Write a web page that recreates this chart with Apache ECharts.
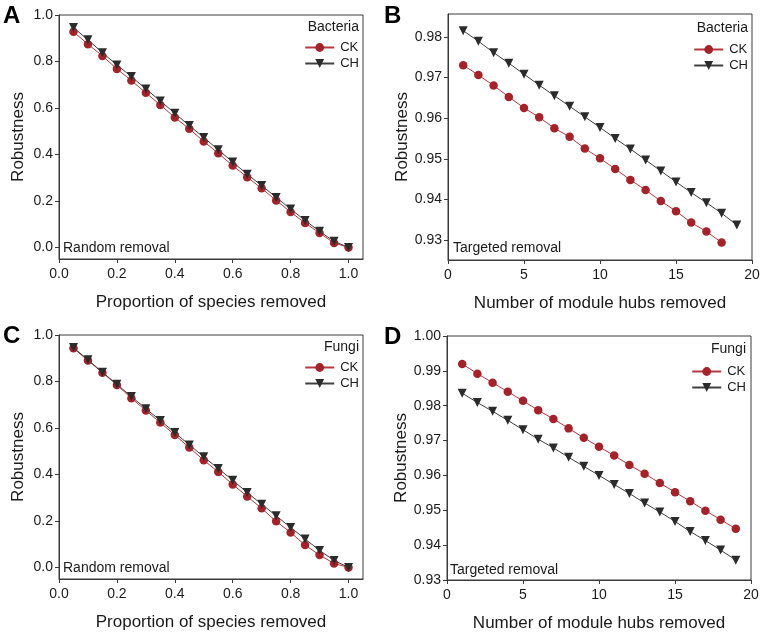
<!DOCTYPE html>
<html>
<head>
<meta charset="utf-8">
<title>Robustness</title>
<script src="https://cdn.jsdelivr.net/npm/echarts@6/dist/echarts.min.js"></script>
<style>
    html, body { margin: 0; padding: 0; background: #fff; }
    #main { width: 767px; height: 641px; }
</style>
</head>
<body>
<div id="main"></div>
<script>
/************************************************************************************/
// data
/************************************************************************************/
var propX = [0.05, 0.10, 0.15, 0.20, 0.25, 0.30, 0.35, 0.40, 0.45, 0.50,
             0.55, 0.60, 0.65, 0.70, 0.75, 0.80, 0.85, 0.90, 0.95, 1.00];
var hubX = [1, 2, 3, 4, 5, 6, 7, 8, 9, 10, 11, 12, 13, 14, 15, 16, 17, 18, 19];

// A: bacteria, random removal
var aCK = [0.928, 0.874, 0.824, 0.768, 0.718, 0.665, 0.613, 0.559, 0.510, 0.456,
           0.405, 0.352, 0.302, 0.254, 0.202, 0.152, 0.105, 0.062, 0.019, 0.000];
var aCH = [0.946, 0.893, 0.838, 0.785, 0.735, 0.682, 0.630, 0.577, 0.524, 0.473,
           0.420, 0.367, 0.315, 0.266, 0.215, 0.165, 0.116, 0.069, 0.026, 0.000];

// B: bacteria, targeted removal (CK has 18 points)
var bCK = [0.9730, 0.9706, 0.9680, 0.9652, 0.9625, 0.9602, 0.9575, 0.9554, 0.9525,
           0.9501, 0.9475, 0.9448, 0.9423, 0.9396, 0.9371, 0.9343, 0.9321, 0.9294];
var bErr = [0.0002, 0.0003, 0.0004, 0.0004, 0.0004, 0.0006, 0.0006, 0.0007, 0.0006,
            0.0006, 0.0006, 0.0006, 0.0005, 0.0004, 0.0004, 0.0003, 0.0003, 0.0002];
var bCH = [0.9815, 0.9789, 0.9761, 0.9735, 0.9708, 0.9681, 0.9655, 0.9629, 0.9603, 0.9577,
           0.9550, 0.9524, 0.9497, 0.9470, 0.9443, 0.9417, 0.9392, 0.9366, 0.9337];

// C: fungi, random removal
var cCK = [0.943, 0.890, 0.838, 0.785, 0.728, 0.675, 0.623, 0.570, 0.516, 0.461,
           0.411, 0.357, 0.305, 0.254, 0.198, 0.150, 0.096, 0.053, 0.017, 0.000];
var cCH = [0.946, 0.893, 0.840, 0.788, 0.735, 0.683, 0.632, 0.580, 0.527, 0.476,
           0.425, 0.375, 0.322, 0.272, 0.222, 0.172, 0.122, 0.073, 0.030, 0.000];

// D: fungi, targeted removal
var dCK = [0.9920, 0.9892, 0.9866, 0.9840, 0.9814, 0.9787, 0.9762, 0.9735, 0.9708, 0.9682,
           0.9657, 0.9630, 0.9605, 0.9578, 0.9552, 0.9526, 0.9499, 0.9473, 0.9447];
var dCH = [0.9836, 0.9809, 0.9784, 0.9758, 0.9731, 0.9704, 0.9679, 0.9652, 0.9626, 0.9600,
           0.9574, 0.9548, 0.9521, 0.9495, 0.9468, 0.9439, 0.9413, 0.9386, 0.9357];

// tick labels
var propTicks = [0, 0.2, 0.4, 0.6, 0.8, 1.0];
var hubTicks = [0, 5, 10, 15, 20];
var bTicks = [0.93, 0.94, 0.95, 0.96, 0.97, 0.98];
var dTicks = [0.93, 0.94, 0.95, 0.96, 0.97, 0.98, 0.99, 1.00];

/************************************************************************************/
// styles
/************************************************************************************/
var FONT = "'Liberation Sans', Arial, sans-serif";
var TXT = '#1a1a1a';
var AXIS = '#3a3a3a';
var RED = '#a3232a';
var RED_LINE = '#b5383c';
var DARK = '#2b2b2b';

var zip = function (xs, ys) {
    var out = [];
    for (var i = 0; i < ys.length; i++) {
        out.push([xs[i], ys[i]]);
    }
    return out;
};

var makeX = function (idx, min, max, ticks, digits, name) {
    return {
        gridIndex: idx, type: 'value', min: min, max: max,
        name: name, nameLocation: 'middle', nameGap: 35,
        nameTextStyle: { fontSize: 17, color: TXT, fontFamily: FONT },
        axisLine: { show: true, onZero: false, lineStyle: { color: AXIS, width: 1 } },
        axisTick: { show: true, length: 4, customValues: ticks, lineStyle: { color: AXIS } },
        axisLabel: {
            customValues: ticks, margin: 8, fontSize: 14, color: TXT, fontFamily: FONT,
            formatter: function (v) { return digits ? v.toFixed(digits) : String(v); }
        },
        splitLine: { show: false }
    };
};

var makeY = function (idx, min, max, ticks, digits) {
    return {
        gridIndex: idx, type: 'value', min: min, max: max,
        name: 'Robustness', nameLocation: 'middle', nameGap: 32,
        nameTextStyle: { fontSize: 17, color: TXT, fontFamily: FONT },
        axisLine: { show: true, onZero: false, lineStyle: { color: AXIS, width: 1 } },
        axisTick: { show: true, length: 4, customValues: ticks, lineStyle: { color: AXIS } },
        axisLabel: {
            customValues: ticks, margin: 6, fontSize: 14, color: TXT, fontFamily: FONT,
            formatter: function (v) { return v.toFixed(digits); }
        },
        splitLine: { show: false }
    };
};

var ckSeries = function (idx, data) {
    return {
        name: 'CK', type: 'line', xAxisIndex: idx, yAxisIndex: idx, data: data,
        symbol: 'circle', symbolSize: 8.5, z: 3,
        itemStyle: { color: RED },
        lineStyle: { color: RED_LINE, width: 1 },
        animation: false
    };
};

var chSeries = function (idx, data) {
    return {
        name: 'CH', type: 'line', xAxisIndex: idx, yAxisIndex: idx, data: data,
        symbol: 'triangle', symbolRotate: 180, symbolSize: 9, z: 4,
        itemStyle: { color: DARK },
        lineStyle: { color: '#404040', width: 1 },
        animation: false
    };
};

var makeLegend = function (right, top) {
    return {
        data: ['CK', 'CH'], orient: 'vertical', right: right, top: top,
        padding: 0, itemWidth: 29, itemHeight: 11, itemGap: 3,
        selectedMode: false,
        textStyle: { fontSize: 13, color: TXT, fontFamily: FONT, padding: [0, 0, 0, 1] }
    };
};

var note = function (x, y, str, align) {
    return {
        type: 'text', x: x, y: y,
        style: {
            text: str, fill: TXT, fontSize: 14, fontFamily: FONT,
            align: align || 'left', verticalAlign: 'middle'
        }
    };
};

var letter = function (x, y, str) {
    return {
        type: 'text', x: x, y: y,
        style: { text: str, fill: '#000', fontSize: 24, fontWeight: 'bold', fontFamily: FONT }
    };
};

// error bars for B / CK
var errData = [];
for (var i = 0; i < bCK.length; i++) {
    errData.push([hubX[i], bCK[i], bErr[i]]);
}

/************************************************************************************/
// chart
/************************************************************************************/
var myChart = echarts.init(document.getElementById('main'), null, { renderer: 'canvas' });

var option = {
    backgroundColor: '#fff',
    animation: false,
    grid: [
        { left: 59, top: 15, width: 304, height: 244, show: true, borderColor: AXIS, borderWidth: 1 },
        { left: 448, top: 14, width: 304, height: 246, show: true, borderColor: AXIS, borderWidth: 1 },
        { left: 59, top: 335, width: 304, height: 244, show: true, borderColor: AXIS, borderWidth: 1 },
        { left: 447, top: 336, width: 304, height: 244, show: true, borderColor: AXIS, borderWidth: 1 }
    ],
    xAxis: [
        makeX(0, 0, 1.05, propTicks, 1, 'Proportion of species removed'),
        makeX(1, 0, 20, hubTicks, 0, 'Number of module hubs removed'),
        makeX(2, 0, 1.05, propTicks, 1, 'Proportion of species removed'),
        makeX(3, 0, 20, hubTicks, 0, 'Number of module hubs removed')
    ],
    yAxis: [
        makeY(0, -0.05, 1.0, propTicks, 1),
        makeY(1, 0.9251, 0.9856, bTicks, 2),
        makeY(2, -0.05, 1.0, propTicks, 1),
        makeY(3, 0.93, 1.00, dTicks, 2)
    ],
    legend: [
        makeLegend(767 - 359, 41),
        makeLegend(767 - 748, 43),
        makeLegend(767 - 359, 361),
        makeLegend(767 - 746, 365)
    ],
    graphic: [
        letter(3, 4, 'A'), letter(384, 4, 'B'), letter(3, 324, 'C'), letter(384, 325, 'D'),
        note(359, 27, 'Bacteria', 'right'),
        note(748, 28, 'Bacteria', 'right'),
        note(359, 347, 'Fungi', 'right'),
        note(746, 349, 'Fungi', 'right'),
        note(63, 248, 'Random removal'),
        note(453, 248, 'Targeted removal'),
        note(63, 568, 'Random removal'),
        note(450, 570, 'Targeted removal')
    ],
    series: [
        ckSeries(0, zip(propX, aCK)),
        chSeries(0, zip(propX, aCH)),
        {
            type: 'custom', xAxisIndex: 1, yAxisIndex: 1, data: errData, z: 2,
            renderItem: function (params, api) {
                var x = api.value(0), y = api.value(1), e = api.value(2);
                var hi = api.coord([x, y + e]);
                var lo = api.coord([x, y - e]);
                var st = { stroke: '#e3a4a6', lineWidth: 1 };
                return {
                    type: 'group',
                    children: [
                        { type: 'line', shape: { x1: hi[0], y1: hi[1], x2: lo[0], y2: lo[1] }, style: st },
                        { type: 'line', shape: { x1: hi[0] - 3, y1: hi[1], x2: hi[0] + 3, y2: hi[1] }, style: st },
                        { type: 'line', shape: { x1: lo[0] - 3, y1: lo[1], x2: lo[0] + 3, y2: lo[1] }, style: st }
                    ]
                };
            }
        },
        ckSeries(1, zip(hubX, bCK)),
        chSeries(1, zip(hubX, bCH)),
        ckSeries(2, zip(propX, cCK)),
        chSeries(2, zip(propX, cCH)),
        ckSeries(3, zip(hubX, dCK)),
        chSeries(3, zip(hubX, dCH))
    ]
};
myChart.setOption(option);
</script>
</body>
</html>
